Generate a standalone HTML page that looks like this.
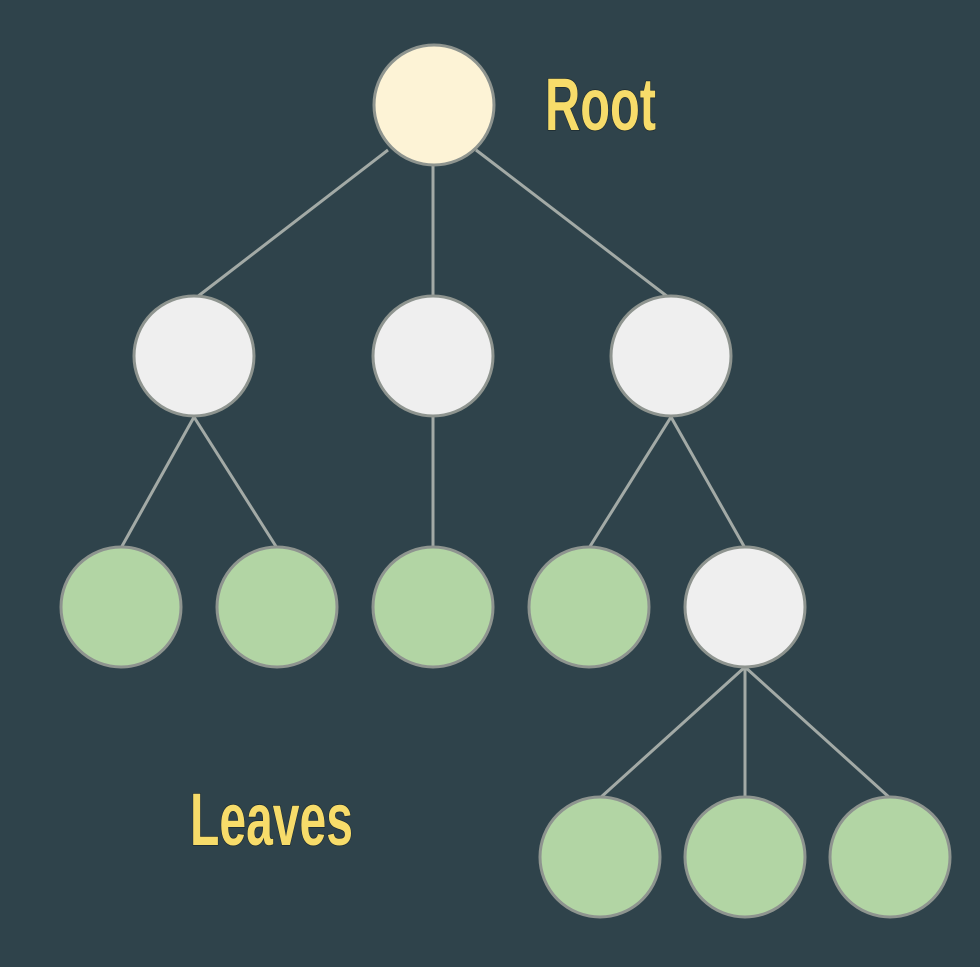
<!DOCTYPE html>
<html><head><style>
html,body{margin:0;padding:0;background:#2f434b;}
svg{display:block}
</style></head><body>
<svg width="980" height="967" viewBox="0 0 980 967" xmlns="http://www.w3.org/2000/svg">
<rect width="980" height="967" fill="#2f434b"/>
<g stroke="#a3aaa6" stroke-width="3">
<line x1="388" y1="150" x2="197" y2="297"/>
<line x1="433" y1="165" x2="433" y2="297"/>
<line x1="476" y1="150" x2="668" y2="297"/>
<line x1="194" y1="417" x2="121" y2="548"/>
<line x1="194" y1="417" x2="277" y2="548"/>
<line x1="433" y1="417" x2="433" y2="548"/>
<line x1="671" y1="417" x2="589" y2="548"/>
<line x1="671" y1="417" x2="745" y2="548"/>
<line x1="745" y1="667" x2="600" y2="798"/>
<line x1="745" y1="667" x2="745" y2="798"/>
<line x1="745" y1="667" x2="890" y2="798"/>
</g>
<g stroke="#8e948f" stroke-width="3">
<circle cx="434" cy="105" r="60" fill="#fdf3d6"/>
<circle cx="194" cy="356" r="60" fill="#efefef"/>
<circle cx="433" cy="356" r="60" fill="#efefef"/>
<circle cx="671" cy="356" r="60" fill="#efefef"/>
<circle cx="121" cy="607" r="60" fill="#b2d5a4"/>
<circle cx="277" cy="607" r="60" fill="#b2d5a4"/>
<circle cx="433" cy="607" r="60" fill="#b2d5a4"/>
<circle cx="589" cy="607" r="60" fill="#b2d5a4"/>
<circle cx="745" cy="607" r="60" fill="#efefef"/>
<circle cx="600" cy="857" r="60" fill="#b2d5a4"/>
<circle cx="745" cy="857" r="60" fill="#b2d5a4"/>
<circle cx="890" cy="857" r="60" fill="#b2d5a4"/>
</g>
<g font-family="Liberation Sans, sans-serif" font-weight="bold" font-size="74" fill="#f7dc6a" stroke="#1c2a30" stroke-width="1.5" paint-order="stroke">
<text x="545" y="130" textLength="111" lengthAdjust="spacingAndGlyphs">Root</text>
<text x="190" y="845" textLength="163" lengthAdjust="spacingAndGlyphs">Leaves</text>
</g>
</svg>
</body></html>
